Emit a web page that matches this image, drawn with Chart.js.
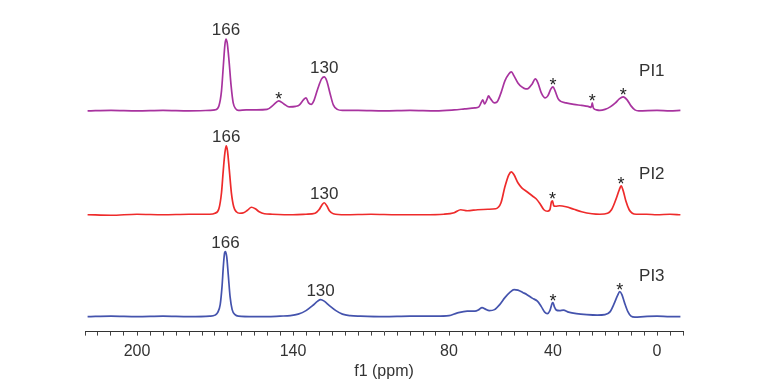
<!DOCTYPE html>
<html lang="en">
<head>
    <meta charset="UTF-8">
    <title>13C NMR - PI1 / PI2 / PI3</title>
    <script src="https://cdn.jsdelivr.net/npm/chart.js@4.4.1/dist/chart.umd.min.js"></script>
    <style>
        body {
            margin: 0;
            background: #fff;
        }
        canvas {
            display: block;
        }
    </style>
</head>
<body>
    <canvas id="nmrChart" width="765" height="392"></canvas>

    <script>
        // spectra: [shift (ppm), signal above own baseline]
        const pi1 = [
            [219, 0], [210, 0.5], [200, 0], [190, 0.5], [180, 0], [172, 0.5], [170, 1],
            [168.5, 5], [167.5, 20], [166.8, 45], [166.2, 66], [165.8, 72], [165.3, 68],
            [164.6, 50], [163.8, 25], [163, 8], [162, 2], [161, 0.5], [158, 1], [154, 1],
            [150, 1.5], [147.5, 6], [145.5, 10], [143.5, 7], [141.5, 4], [139, 4.5],
            [137.5, 6], [136, 11], [135, 13], [134, 8], [133, 6.5], [132, 10], [130.5, 22],
            [129, 32], [128, 34], [127, 30], [125.8, 18], [124.5, 6], [123, 1.5], [121, 0.5],
            [115, 0.5], [105, 0], [95, 0.5], [85, 0], [78, 1], [74, 2], [70, 3], [68.5, 4],
            [67.5, 9], [67, 11], [66.3, 7], [65.3, 12], [64.8, 15], [64, 12], [62.6, 8],
            [61.5, 9], [60, 18], [58.5, 30], [57, 37], [56, 39], [55, 35], [53.5, 28],
            [52, 24], [50.5, 22], [49.5, 22.5], [48, 27], [46.8, 32], [45.8, 28], [44.5, 18],
            [43, 13], [42, 15], [40.8, 22], [40, 24], [39.2, 20], [38, 12], [37, 9.5],
            [35, 8], [32, 6.5], [29, 5.5], [26.5, 4.5], [25.3, 3.5], [24.9, 8], [24.5, 3],
            [23.3, 1], [22, 0.5], [20, 1.5], [18, 4], [16, 8], [14.5, 12], [13, 14],
            [11.5, 11], [10, 5], [8.5, 1], [7, 0], [0, 0.5], [-5, 0], [-9, 0.5]
        ];
        const pi2 = [
            [219, 0], [210, -0.5], [200, 0.5], [190, 0], [180, 0.5], [172, 0.5], [170, 1.5],
            [168.5, 6], [167.5, 22], [166.8, 45], [166.2, 62], [165.7, 69], [165.2, 64],
            [164.5, 45], [163.7, 22], [162.8, 8], [161.8, 3], [160.5, 1.5], [159, 2],
            [157.5, 4.5], [156, 7.5], [154.5, 6], [153, 3], [151, 1], [148, 0.5], [140, 0],
            [135, 0.5], [131.5, 1.5], [130, 5], [128.8, 10], [128, 12], [127, 9], [126, 4],
            [124.5, 1], [120, 0], [110, 0.5], [100, 0], [90, 0], [82, 0.5], [78, 2],
            [75.5, 5], [73, 4], [69, 5], [65, 5.5], [62, 6], [60, 12], [58.5, 28], [57, 40],
            [56, 43], [55, 40], [53.5, 32], [52, 27], [50, 23], [48, 19], [46.5, 16],
            [45, 11], [43.5, 5], [42.2, 3.5], [41.2, 5], [40.6, 13], [40.2, 14], [39.7, 9],
            [39, 8.5], [37.5, 9], [35, 8], [32, 5.5], [29, 3], [25, 1], [22, 0.5], [19, 1.5],
            [17.5, 5], [16, 14], [14.5, 25], [13.8, 29], [13, 24], [12, 14], [10.7, 5],
            [9.5, 1.5], [8, 0.5], [4, 0.5], [0, 0], [-5, 0.5], [-9, 0]
        ];
        const pi3 = [
            [219, 0], [210, 0.5], [200, 0], [190, 0.5], [180, 0], [172, 0.5], [170, 1.5],
            [169, 4], [168, 12], [167.3, 30], [166.8, 50], [166.3, 64], [166, 65],
            [165.5, 60], [164.9, 42], [164.2, 20], [163.4, 7], [162.3, 2], [161, 0.5],
            [155, 0], [150, 0], [145, 0.5], [141, 1], [138, 2.5], [135, 6], [132.5, 11],
            [130.5, 15.5], [129.4, 17], [128, 15.5], [126, 11], [123.5, 6], [121, 2.5],
            [118, 1], [114, 0.5], [105, 0], [95, 0.5], [85, 0.5], [80, 1], [77, 3.5],
            [73, 5.5], [70, 5.5], [68.5, 7], [67.3, 9], [66, 7.5], [64.5, 6], [62.5, 7],
            [60.5, 12], [58.5, 19], [56.5, 24.5], [55, 27], [53.5, 26.5], [51.5, 24],
            [50, 22], [48, 18.5], [46, 15.5], [44.5, 10], [43.2, 4.5], [42.2, 3], [41.2, 6],
            [40.3, 13.5], [40, 14], [39.5, 10], [38.7, 6.5], [37.5, 6], [36, 6.5], [34, 4.5],
            [31, 3], [27, 2], [23, 1.5], [20, 2], [18, 5], [16.5, 13], [15.2, 21], [14.3, 25],
            [13.5, 22], [12.5, 14], [11.2, 5], [10, 0.5], [8.5, -0.5], [5, 0], [0, 0.5],
            [-5, 0], [-9, 0]
        ];

        const sampleNames = ['PI1', 'PI2', 'PI3'];
        const tickLabels = [200, 140, 80, 40, 0];

        // assigned peaks and spinning side bands (*) per sample
        const peakNotes = [[0, 165.8, '166'], [0, 128, '130'], [1, 165.7, '166'], [1, 128, '130'], [2, 166, '166'], [2, 129.4, '130']];
        const starNotes = [[0, 145.5], [0, 40], [0, 24.9], [0, 13], [1, 40.2], [1, 13.8], [2, 40], [2, 14.3]];

        // vertical stacking of the three traces
        const offsets = [221, 117, 15];
        const colors = ['#a8339f', '#ee2b2b', '#4453ad'];
        const font = '"Liberation Sans", Arial, sans-serif';
        const textColor = '#333';

        const spectra = [pi1, pi2, pi3];

        function peakTop(chart, idx, ppm) {
            const pts = spectra[idx].filter(p => Math.abs(p[0] - ppm) <= 1.5);
            const top = Math.max(...pts.map(p => p[1]));
            return {
                x: chart.scales.x.getPixelForValue(ppm),
                y: chart.scales.y.getPixelForValue(top + offsets[idx])
            };
        }

        const notesPlugin = {
            id: 'notes',
            afterDatasetsDraw(chart) {
                const c = chart.ctx;
                c.save();
                c.fillStyle = textColor;
                c.textAlign = 'center';
                c.textBaseline = 'alphabetic';
                c.font = '17px ' + font;
                peakNotes.forEach(([idx, ppm, txt]) => {
                    const p = peakTop(chart, idx, ppm);
                    c.fillText(txt, p.x, p.y - 4);
                });
                c.font = '18px ' + font;
                c.fillStyle = '#222';
                starNotes.forEach(([idx, ppm]) => {
                    const p = peakTop(chart, idx, ppm);
                    c.fillText('*', p.x, p.y + 4);
                });
                c.fillStyle = textColor;
                c.font = '17px ' + font;
                c.textBaseline = 'middle';
                sampleNames.forEach((name, i) => {
                    const x = chart.scales.x.getPixelForValue(2);
                    const y = chart.scales.y.getPixelForValue(offsets[i] + 40);
                    c.fillText(name, x, y);
                });
                c.restore();
            }
        };

        new Chart(document.getElementById('nmrChart'), {
            type: 'line',
            data: {
                datasets: spectra.map((s, i) => ({
                    label: sampleNames[i],
                    data: s.map(p => ({ x: p[0], y: p[1] + offsets[i] })),
                    borderColor: colors[i],
                    borderWidth: 1.7,
                    pointRadius: 0,
                    cubicInterpolationMode: 'monotone',
                    fill: false
                }))
            },
            options: {
                responsive: false,
                animation: false,
                layout: {
                    padding: { left: 85, right: 82, top: 20, bottom: 11 }
                },
                plugins: {
                    legend: { display: false },
                    tooltip: { enabled: false }
                },
                scales: {
                    x: {
                        type: 'linear',
                        reverse: true,
                        min: -10,
                        max: 220,
                        grid: {
                            drawOnChartArea: false,
                            drawTicks: true,
                            tickLength: 4,
                            tickColor: '#444'
                        },
                        border: { display: true, color: '#333', width: 1 },
                        ticks: {
                            stepSize: 5,
                            autoSkip: false,
                            maxRotation: 0,
                            padding: 6,
                            color: textColor,
                            font: { family: font, size: 16 },
                            callback: v => tickLabels.includes(v) ? String(v) : ''
                        },
                        title: {
                            display: true,
                            text: 'f1 (ppm)',
                            color: textColor,
                            font: { family: font, size: 16 },
                            padding: { top: -5, bottom: 0 }
                        }
                    },
                    y: {
                        display: false,
                        min: 0,
                        max: 312
                    }
                }
            },
            plugins: [notesPlugin]
        });
    </script>
</body>
</html>
